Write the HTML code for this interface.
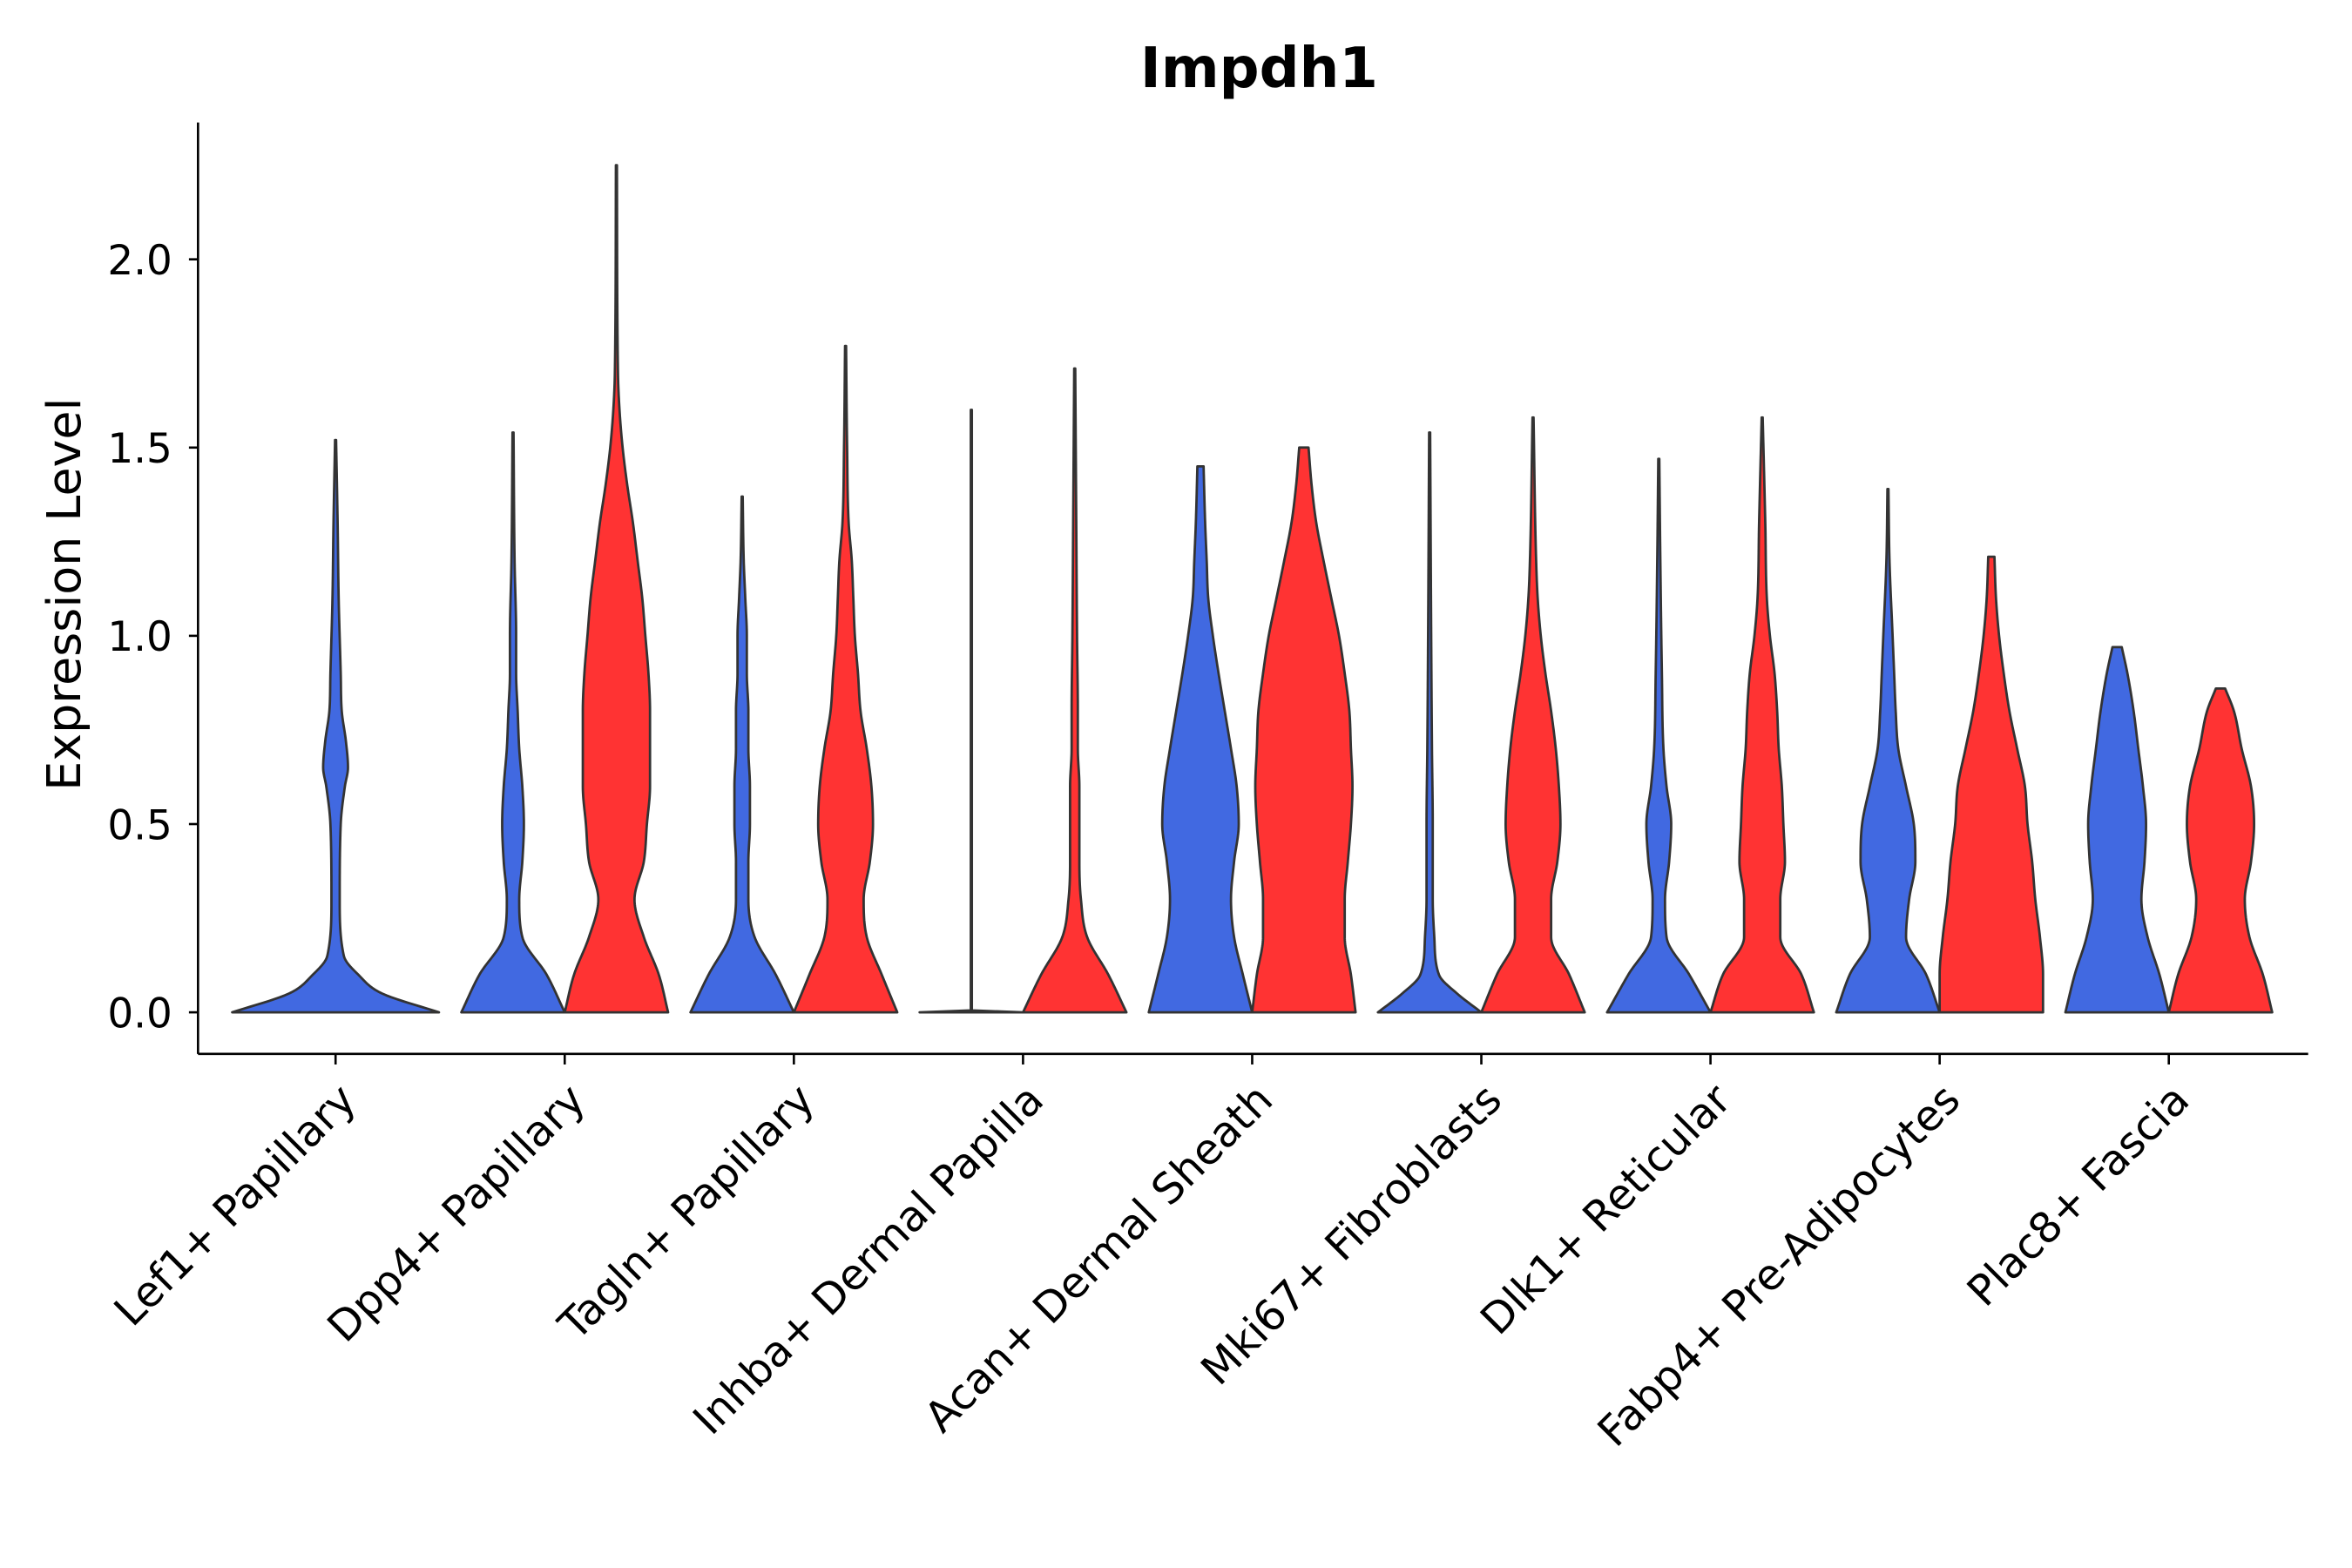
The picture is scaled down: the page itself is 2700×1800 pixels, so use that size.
<!DOCTYPE html>
<html><head><meta charset="utf-8"><style>
html,body{margin:0;padding:0;background:#fff;}
svg{display:block;font-family:"DejaVu Sans","Liberation Sans",sans-serif;}
</style></head><body>
<svg id="chart" width="2700" height="1800" viewBox="0 0 1556 1037" preserveAspectRatio="none" xmlns="http://www.w3.org/2000/svg">
<text x="833" y="57.5" text-anchor="middle" font-size="37" font-weight="bold">Impdh1</text>
<text transform="translate(53,393) rotate(-90)" text-anchor="middle" font-size="31">Expression Level</text>
<g id="ticks"></g>
<g id="violins"></g>
<line x1="131" y1="81" x2="131" y2="697" stroke="#000" stroke-width="1.5"/>
<line x1="131" y1="697" x2="1527" y2="697" stroke="#000" stroke-width="1.5"/>
</svg>
<script>
const categories=["Lef1+ Papillary","Dpp4+ Papillary","Tagln+ Papillary","Inhba+ Dermal Papilla","Acan+ Dermal Sheath","Mki67+ Fibroblasts","Dlk1+ Reticular","Fabp4+ Pre-Adipocytes","Plac8+ Fascia"];
const yTicks=[0,0.5,1,1.5,2];
const yTickLabels=["0.0","0.5","1.0","1.5","2.0"];
// each violin: category index, group, values (expression levels), relative half-widths (0..1)
const violinCategory=[0,1,1,2,2,3,3,4,4,5,5,6,6,7,7,8,8];
const violinGroup=["A","A","B","A","B","A","B","A","B","A","B","A","B","A","B","A","B"];
const violinValues=[
[0,0.05,0.1,0.15,0.3,0.5,0.6,0.65,0.72,0.8,0.9,1.1,1.3,1.52],
[0,0.1,0.2,0.3,0.4,0.5,0.6,0.7,0.8,0.9,1.0,1.2,1.54],
[0,0.1,0.2,0.3,0.4,0.5,0.6,0.7,0.8,0.9,1.0,1.1,1.2,1.3,1.4,1.5,1.6,1.7,2.25],
[0,0.1,0.2,0.3,0.4,0.5,0.6,0.7,0.8,0.9,1.0,1.1,1.2,1.37],
[0,0.1,0.2,0.3,0.4,0.5,0.6,0.7,0.8,0.9,1.0,1.1,1.2,1.3,1.5,1.77],
[0,0.005,1.6],
[0,0.1,0.2,0.3,0.4,0.5,0.6,0.7,0.8,1.0,1.3,1.71],
[0,0.1,0.2,0.3,0.4,0.5,0.6,0.7,0.8,0.9,1.0,1.1,1.2,1.3,1.45],
[0,0.1,0.2,0.3,0.4,0.5,0.6,0.7,0.8,0.9,1.0,1.1,1.2,1.3,1.4,1.5],
[0,0.05,0.1,0.2,0.3,0.5,0.7,1.0,1.54],
[0,0.1,0.2,0.3,0.4,0.5,0.6,0.7,0.8,0.9,1.0,1.1,1.2,1.58],
[0,0.1,0.2,0.3,0.4,0.5,0.6,0.7,0.9,1.2,1.47],
[0,0.1,0.2,0.3,0.4,0.5,0.6,0.7,0.8,0.9,1.0,1.1,1.3,1.58],
[0,0.1,0.2,0.3,0.4,0.5,0.6,0.7,0.8,0.9,1.0,1.2,1.39],
[0,0.1,0.2,0.3,0.4,0.5,0.6,0.7,0.8,0.9,1.0,1.1,1.21],
[0,0.1,0.2,0.3,0.4,0.5,0.6,0.7,0.8,0.9,0.97],
[0,0.1,0.2,0.3,0.4,0.5,0.6,0.7,0.8,0.86]
];
const violinDensity=[
[1,0.45,0.22,0.08,0.04,0.05,0.09,0.12,0.1,0.06,0.05,0.03,0.02,0.005],
[1,0.65,0.18,0.12,0.18,0.21,0.18,0.12,0.09,0.06,0.06,0.03,0.01],
[1,0.82,0.53,0.35,0.53,0.59,0.65,0.65,0.65,0.62,0.56,0.5,0.41,0.32,0.21,0.12,0.06,0.03,0.01],
[1,0.65,0.24,0.12,0.12,0.15,0.15,0.12,0.12,0.09,0.09,0.06,0.03,0.01],
[1,0.7,0.41,0.35,0.47,0.53,0.5,0.41,0.29,0.24,0.18,0.15,0.12,0.06,0.03,0.01],
[1,0.01,0.01],
[1,0.65,0.24,0.12,0.09,0.09,0.09,0.06,0.06,0.045,0.03,0.01],
[1,0.82,0.65,0.59,0.65,0.74,0.7,0.59,0.47,0.35,0.24,0.15,0.12,0.09,0.06],
[1,0.91,0.79,0.79,0.85,0.91,0.94,0.91,0.88,0.79,0.68,0.53,0.38,0.24,0.15,0.09],
[1,0.53,0.18,0.09,0.06,0.06,0.045,0.03,0.01],
[1,0.7,0.35,0.35,0.47,0.53,0.5,0.44,0.35,0.24,0.15,0.09,0.06,0.01],
[1,0.59,0.15,0.12,0.2,0.24,0.15,0.09,0.06,0.03,0.01],
[1,0.76,0.35,0.35,0.44,0.41,0.38,0.32,0.29,0.24,0.15,0.09,0.06,0.01],
[1,0.74,0.35,0.41,0.53,0.5,0.35,0.2,0.15,0.12,0.09,0.03,0.01],
[1,1,0.94,0.85,0.79,0.7,0.65,0.5,0.35,0.24,0.15,0.09,0.06],
[1,0.82,0.59,0.47,0.53,0.56,0.5,0.41,0.32,0.2,0.09],
[1,0.82,0.56,0.47,0.59,0.65,0.59,0.41,0.26,0.09]
];
const singleGroupCategories=[0];

const NS="http://www.w3.org/2000/svg";
const y0=669.5, unit=249, catStart=222, catStep=151.6, halfW=34.2, offset=34.2;
const yScale=v=>y0-v*unit;
const xScale=i=>catStart+i*catStep;
const colors={A:"#4169E1",B:"#FF3333"};
const tg=document.getElementById('ticks');
yTicks.forEach((t,i)=>{
  const y=yScale(t);
  const l=document.createElementNS(NS,'line');
  l.setAttribute('x1',125);l.setAttribute('x2',131);l.setAttribute('y1',y);l.setAttribute('y2',y);
  l.setAttribute('stroke','#000');l.setAttribute('stroke-width','1.5');
  
  
  tg.appendChild(l);
  const tx=document.createElementNS(NS,'text');
  tx.setAttribute('x',114);tx.setAttribute('y',y+10);tx.setAttribute('text-anchor','end');tx.setAttribute('font-size','27');
  tx.textContent=yTickLabels[i];
  
  
  tg.appendChild(tx);
});
categories.forEach((c,i)=>{
  const x=xScale(i);
  const l=document.createElementNS(NS,'line');
  l.setAttribute('x1',x);l.setAttribute('x2',x);l.setAttribute('y1',697);l.setAttribute('y2',704);
  l.setAttribute('stroke','#000');l.setAttribute('stroke-width','1.5');
  
  
  tg.appendChild(l);
  const tx=document.createElementNS(NS,'text');
  tx.setAttribute('transform','translate('+(x+15)+',729) rotate(-45)');
  tx.setAttribute('text-anchor','end');tx.setAttribute('font-size','28');
  tx.textContent=c;
  
  
  tg.appendChild(tx);
});
// monotone cubic interpolation (no overshoot)
function monotone(xs,ys){
  const n=xs.length,d=[],m=[];
  for(let i=0;i<n-1;i++)d.push((ys[i+1]-ys[i])/(xs[i+1]-xs[i]));
  m[0]=d[0];m[n-1]=d[n-2];
  for(let i=1;i<n-1;i++){m[i]=(d[i-1]*d[i]<=0)?0:(d[i-1]+d[i])/2;}
  for(let i=0;i<n-1;i++){
    if(d[i]===0){m[i]=0;m[i+1]=0;continue;}
    const a=m[i]/d[i],b=m[i+1]/d[i],s=a*a+b*b;
    if(s>9){const t=3/Math.sqrt(s);m[i]=t*a*d[i];m[i+1]=t*b*d[i];}
  }
  return x=>{
    let i=0;while(i<n-2&&x>xs[i+1])i++;
    const h=xs[i+1]-xs[i],t=(x-xs[i])/h;
    const h00=2*t*t*t-3*t*t+1,h10=t*t*t-2*t*t+t,h01=-2*t*t*t+3*t*t,h11=t*t*t-t*t;
    return Math.max(0,h00*ys[i]+h10*h*m[i]+h01*ys[i+1]+h11*h*m[i+1]);
  };
}
const vg=document.getElementById('violins');
violinValues.forEach((vals,k)=>{
  const ci=violinCategory[k];
  const single=singleGroupCategories.includes(ci);
  const cx=single?xScale(ci):xScale(ci)+(violinGroup[k]==="A"?-offset:offset);
  const hw=single?halfW*2:halfW;
  const f=monotone(vals,violinDensity[k]);
  const vmax=vals[vals.length-1];
  const samples=[];
  for(let v=0;v<vmax;v+=0.005)samples.push(v);
  samples.push(vmax);
  const right=samples.map(v=>[cx+f(v)*hw,yScale(v)]);
  const left=samples.map(v=>[cx-f(v)*hw,yScale(v)]).reverse();
  const pts=right.concat(left);
  const d='M'+pts.map(p=>p[0].toFixed(2)+','+p[1].toFixed(2)).join(' L')+' Z';
  const p=document.createElementNS(NS,'path');
  p.setAttribute('d',d);
  p.setAttribute('fill',colors[violinGroup[k]]);
  p.setAttribute('stroke','#333');p.setAttribute('stroke-width','1.6');p.setAttribute('stroke-linejoin','round');
  
  
  vg.appendChild(p);
});
</script>
</body></html>
